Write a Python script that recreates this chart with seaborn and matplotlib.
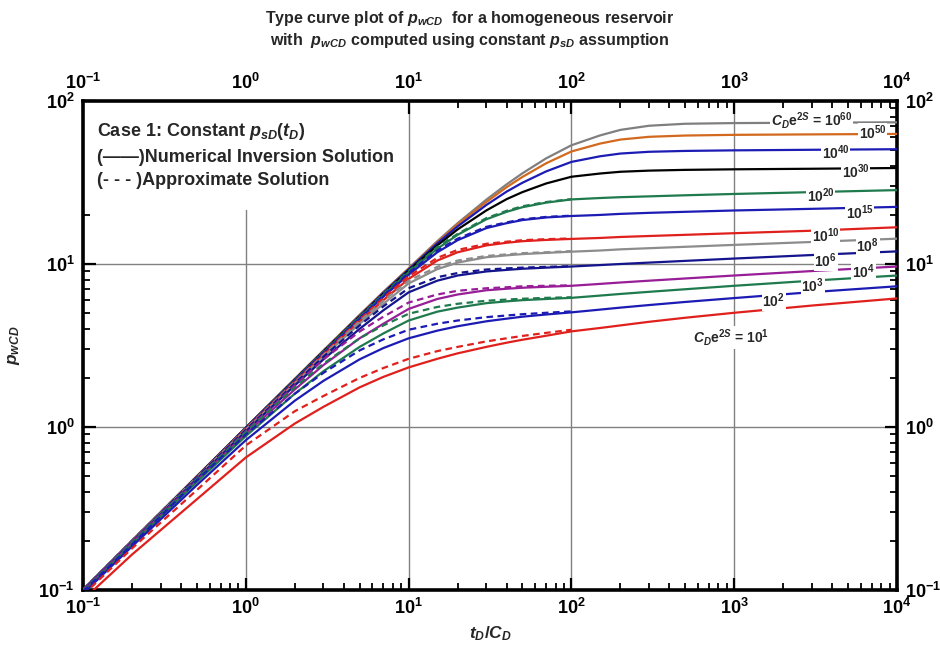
import numpy as np
import pandas as pd
import matplotlib
matplotlib.use("Agg")
import matplotlib.pyplot as plt
import seaborn as sns
from matplotlib import font_manager
from matplotlib.ticker import LogLocator, FuncFormatter, NullFormatter
from matplotlib.patches import Rectangle

# ---------------- data ----------------
tD_CD = [0.1, 0.2, 0.5, 1, 2, 3, 5, 7, 10, 15, 20, 30, 40, 50, 70, 100,
         150, 200, 300, 500, 1000, 3000, 10000]
tD_CD_dash = [0.1, 0.2, 0.5, 1, 2, 3, 5, 7, 10, 15, 20, 30, 40, 50, 70, 100]

p_1e60 = [0.1, 0.2, 0.498, 0.99, 1.97, 2.95, 4.87, 6.75, 9.4, 13.8, 17.8, 24.8, 30.8, 36.0, 44.5, 53.5, 61.5, 66.5, 70.5, 72.5, 73.2, 73.6, 74.0]
p_1e50 = [0.1, 0.2, 0.497, 0.99, 1.97, 2.94, 4.85, 6.7, 9.35, 13.6, 17.5, 24.0, 29.6, 34.2, 41.5, 49.0, 54.8, 58.0, 60.3, 61.4, 62.0, 62.4, 62.8]
p_1e40 = [0.1, 0.2, 0.497, 0.99, 1.96, 2.92, 4.8, 6.65, 9.25, 13.4, 17.0, 23.0, 27.8, 31.5, 37.0, 42.3, 45.8, 47.6, 48.8, 49.4, 49.8, 50.2, 50.6]
p_1e30 = [0.1, 0.2, 0.495, 0.985, 1.95, 2.9, 4.75, 6.55, 9.1, 13.0, 16.3, 21.3, 25.0, 27.6, 31.2, 34.3, 35.9, 36.8, 37.4, 37.8, 38.1, 38.4, 38.8]
p_1e20 = [0.1, 0.199, 0.495, 0.98, 1.94, 2.87, 4.7, 6.45, 8.9, 12.4, 15.1, 18.8, 20.9, 22.3, 23.8, 24.9, 25.4, 25.7, 26.0, 26.4, 26.9, 27.6, 28.4]
p_1e15 = [0.1, 0.199, 0.49, 0.98, 1.92, 2.83, 4.6, 6.3, 8.6, 11.8, 14.0, 16.6, 17.8, 18.6, 19.3, 19.7, 20.0, 20.3, 20.6, 20.9, 21.3, 21.8, 22.4]
p_1e10 = [0.099, 0.198, 0.49, 0.97, 1.88, 2.76, 4.45, 6.0, 8.1, 10.5, 11.8, 13.0, 13.5, 13.8, 14.05, 14.25, 14.45, 14.65, 14.85, 15.1, 15.45, 16.0, 16.8]
p_1e8 = [0.099, 0.198, 0.49, 0.96, 1.85, 2.7, 4.3, 5.7, 7.6, 9.3, 10.2, 11.0, 11.3, 11.5, 11.7, 11.9, 12.1, 12.3, 12.5, 12.75, 13.1, 13.65, 14.3]
p_1e6 = [0.099, 0.197, 0.48, 0.94, 1.8, 2.6, 4.0, 5.2, 6.7, 7.9, 8.5, 9.0, 9.2, 9.35, 9.5, 9.65, 9.85, 10.0, 10.2, 10.45, 10.8, 11.35, 11.95]
p_1e4 = [0.098, 0.195, 0.47, 0.91, 1.7, 2.4, 3.5, 4.3, 5.3, 6.1, 6.5, 6.9, 7.05, 7.15, 7.25, 7.35, 7.55, 7.7, 7.9, 8.15, 8.5, 9.05, 9.65]
p_1e3 = [0.097, 0.19, 0.46, 0.88, 1.6, 2.2, 3.1, 3.75, 4.5, 5.1, 5.4, 5.75, 5.9, 6.0, 6.1, 6.2, 6.4, 6.55, 6.75, 7.0, 7.35, 7.9, 8.5]
p_1e2 = [0.095, 0.185, 0.44, 0.83, 1.45, 1.92, 2.6, 3.05, 3.5, 3.9, 4.15, 4.45, 4.62, 4.75, 4.9, 5.05, 5.25, 5.4, 5.6, 5.85, 6.18, 6.72, 7.3]
p_1e1 = [0.087, 0.165, 0.36, 0.65, 1.05, 1.33, 1.75, 2.03, 2.32, 2.62, 2.83, 3.1, 3.29, 3.43, 3.63, 3.86, 4.05, 4.2, 4.42, 4.68, 5.02, 5.56, 6.15]

d_1e20 = [0.1, 0.2, 0.497, 0.99, 1.95, 2.9, 4.75, 6.55, 9.05, 12.7, 15.3, 19.1, 21.2, 22.6, 24.0, 25.0]
d_1e15 = [0.1, 0.2, 0.495, 0.985, 1.93, 2.86, 4.65, 6.4, 8.8, 12.1, 14.3, 16.9, 18.0, 18.8, 19.45, 19.8]
d_1e10 = [0.1, 0.199, 0.495, 0.98, 1.9, 2.8, 4.55, 6.2, 8.4, 10.9, 12.2, 13.3, 13.7, 14.0, 14.2, 14.35]
d_1e8 = [0.1, 0.199, 0.49, 0.97, 1.88, 2.76, 4.45, 5.95, 7.9, 9.6, 10.5, 11.2, 11.45, 11.65, 11.8, 12.0]
d_1e6 = [0.1, 0.198, 0.49, 0.96, 1.85, 2.7, 4.2, 5.5, 7.1, 8.3, 8.8, 9.25, 9.4, 9.5, 9.6, 9.7]
d_1e4 = [0.1, 0.197, 0.48, 0.94, 1.8, 2.6, 3.85, 4.75, 5.8, 6.5, 6.85, 7.1, 7.2, 7.3, 7.35, 7.4]
d_1e3 = [0.099, 0.195, 0.48, 0.93, 1.75, 2.45, 3.5, 4.2, 4.95, 5.45, 5.7, 5.95, 6.05, 6.12, 6.2, 6.25]
d_1e2 = [0.098, 0.19, 0.47, 0.9, 1.6, 2.15, 2.95, 3.45, 3.95, 4.3, 4.5, 4.72, 4.83, 4.92, 5.02, 5.12]
d_1e1 = [0.093, 0.18, 0.41, 0.77, 1.25, 1.55, 2.0, 2.3, 2.62, 2.92, 3.1, 3.35, 3.5, 3.62, 3.78, 3.95]

curve_names = ["1e60", "1e50", "1e40", "1e30", "1e20", "1e15", "1e10",
               "1e8", "1e6", "1e4", "1e3", "1e2", "1e1"]
curve_labels = [r"$C_D\mathrm{e}^{2S}$ = 10$^{60}$", r"10$^{50}$", r"10$^{40}$",
                r"10$^{30}$", r"10$^{20}$", r"10$^{15}$", r"10$^{10}$",
                r"10$^{8}$", r"10$^{6}$", r"10$^{4}$", r"10$^{3}$", r"10$^{2}$",
                r"$C_D\mathrm{e}^{2S}$ = 10$^{1}$"]

solid_series = [p_1e60, p_1e50, p_1e40, p_1e30, p_1e20, p_1e15, p_1e10,
                p_1e8, p_1e6, p_1e4, p_1e3, p_1e2, p_1e1]
dash_series = {"1e20": d_1e20, "1e15": d_1e15, "1e10": d_1e10, "1e8": d_1e8,
               "1e6": d_1e6, "1e4": d_1e4, "1e3": d_1e3, "1e2": d_1e2,
               "1e1": d_1e1}

# ---------------- styling ----------------
colors = ["#7f7f7f", "#d2691e", "#1c1cb4", "#000000", "#1f7a4d", "#1c1cb4",
          "#e0201c", "#8c8c8c", "#14148c", "#981e98", "#1f7a4d", "#1c1cb4",
          "#e0201c"]
label_pos = [(3000, 75.4), (7100, 64.0), (4200, 48.1), (5570, 36.7),
             (3400, 26.2), (5890, 20.6), (3650, 14.9), (6590, 12.9),
             (3650, 10.5), (6240, 8.98), (3040, 7.37), (1750, 5.96),
             (955, 3.54)]

sns.set_theme(style="ticks")
plt.rcParams["font.family"] = ["Liberation Sans", "DejaVu Sans"]
plt.rcParams["font.weight"] = "bold"
plt.rcParams["mathtext.fontset"] = "custom"
plt.rcParams["mathtext.rm"] = "Liberation Sans:bold"
plt.rcParams["mathtext.it"] = "Liberation Sans:italic:bold"
plt.rcParams["mathtext.bf"] = "Liberation Sans:bold"

# narrow font for the title if available
try:
    font_manager.findfont(font_manager.FontProperties(family="Liberation Sans Narrow"),
                          fallback_to_default=False)
    title_family, title_size = ["Liberation Sans Narrow", "Liberation Sans"], 13.5
except Exception:
    title_family, title_size = ["Liberation Sans", "DejaVu Sans"], 11.5

fig = plt.figure(figsize=(9.4, 6.64), dpi=100)
ax = fig.add_axes([83 / 940, 74 / 664, 814 / 940, 489 / 664])
ax.set_xscale("log")
ax.set_yscale("log")

for name, vals, col in zip(curve_names, solid_series, colors):
    df = pd.DataFrame({"tD_CD": tD_CD, "pwCD": vals})
    sns.lineplot(data=df, x="tD_CD", y="pwCD", color=col, lw=1.6, ax=ax,
                 zorder=3, estimator=None)
for name, col in zip(curve_names, colors):
    if name in dash_series:
        df = pd.DataFrame({"tD_CD": tD_CD_dash, "pwCD": dash_series[name]})
        sns.lineplot(data=df, x="tD_CD", y="pwCD", color=col, lw=1.6, ax=ax,
                     zorder=4, estimator=None, linestyle=(0, (3, 2)))

ax.set_xlim(0.1, 1e4)
ax.set_ylim(0.1, 100)

# grid at decades only
ax.set_axisbelow(True)
ax.grid(True, which="major", color="#808080", lw=1.0)
ax.grid(False, which="minor")

# white legend area
ax.add_patch(Rectangle((0, 0.777), 0.395, 0.223, transform=ax.transAxes,
                       facecolor="white", edgecolor="none", zorder=1))

for lab, (lx, ly) in zip(curve_labels, label_pos):
    ax.text(lx, ly, lab, fontsize=10, fontweight="bold", ha="center",
            va="center", zorder=6,
            bbox=dict(facecolor="white", edgecolor="none", pad=0.5))

ax.text(0.017, 0.937, r"Case 1: Constant $p_{sD}(t_D)$", transform=ax.transAxes,
        fontsize=13, fontweight="bold", va="center", ha="left", zorder=6)
ax.text(0.017, 0.884, "(\u2014\u2014)Numerical Inversion Solution",
        transform=ax.transAxes, fontsize=13, fontweight="bold", va="center",
        ha="left", zorder=6)
ax.text(0.017, 0.838, "(- - - )Approximate Solution", transform=ax.transAxes,
        fontsize=13, fontweight="bold", va="center", ha="left", zorder=6)

# ticks
fmt = FuncFormatter(lambda v, p: r"$10^{%d}$" % int(round(np.log10(v))))
for axis in (ax.xaxis, ax.yaxis):
    axis.set_major_locator(LogLocator(base=10, numticks=20))
    axis.set_minor_locator(LogLocator(base=10, subs=np.arange(2, 10), numticks=20))
    axis.set_major_formatter(fmt)
    axis.set_minor_formatter(NullFormatter())
ax.tick_params(which="both", direction="in", top=True, right=True,
               labeltop=True, labelright=True, colors="black")
ax.tick_params(which="major", length=9, width=1.6, labelsize=13, pad=6)
ax.tick_params(which="minor", length=5, width=1.3)
for sp in ax.spines.values():
    sp.set_linewidth(2.6)
    sp.set_color("black")

ax.set_xlabel(r"$t_D/C_D$", fontsize=12.5, labelpad=4)
ax.set_ylabel(r"$p_{wCD}$", fontsize=12.5, labelpad=12)

fig.text(0.5, 1 - 18 / 664, r"Type curve plot of $p_{wCD}$  for a homogeneous reservoir",
         ha="center", va="center", fontsize=title_size, fontweight="bold",
         family=title_family)
fig.text(0.5, 1 - 40 / 664, r"with  $p_{wCD}$ computed using constant $p_{sD}$ assumption",
         ha="center", va="center", fontsize=title_size, fontweight="bold",
         family=title_family)

fig.savefig("out.png", dpi=100, facecolor="white")
